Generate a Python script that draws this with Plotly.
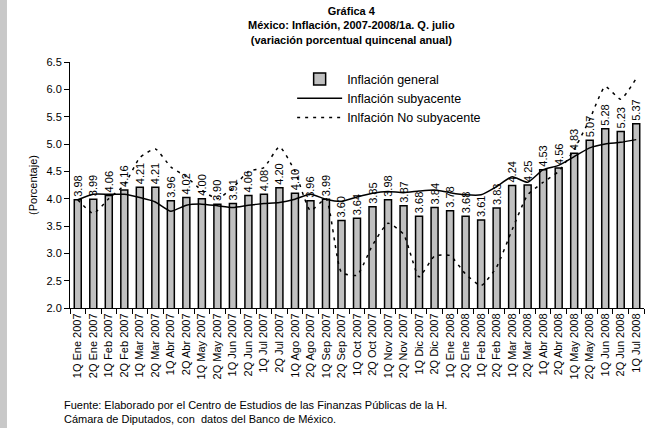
import plotly.graph_objects as go

categories = [
    "1Q Ene 2007", "2Q Ene 2007", "1Q Feb 2007", "2Q Feb 2007", "1Q Mar 2007", "2Q Mar 2007",
    "1Q Abr 2007", "2Q Abr 2007", "1Q May 2007", "2Q May 2007", "1Q Jun 2007", "2Q Jun 2007",
    "1Q Jul 2007", "2Q Jul 2007", "1Q Ago 2007", "2Q Ago 2007", "1Q Sep 2007", "2Q Sep 2007",
    "1Q Oct 2007", "2Q Oct 2007", "1Q Nov 2007", "2Q Nov 2007", "1Q Dic 2007", "2Q Dic 2007",
    "1Q Ene 2008", "2Q Ene 2008", "1Q Feb 2008", "2Q Feb 2008", "1Q Mar 2008", "2Q Mar 2008",
    "1Q Abr 2008", "2Q Abr 2008", "1Q May 2008", "2Q May 2008", "1Q Jun 2008", "2Q Jun 2008",
    "1Q Jul 2008",
]

general = [3.98, 3.99, 4.06, 4.16, 4.21, 4.21, 3.96, 4.02, 4.00, 3.90, 3.91, 4.06,
           4.08, 4.20, 4.10, 3.96, 3.99, 3.60, 3.64, 3.85, 3.98, 3.87, 3.68, 3.84,
           3.78, 3.68, 3.61, 3.83, 4.24, 4.25, 4.53, 4.56, 4.83, 5.07, 5.28, 5.23, 5.37]

subyacente = [3.98, 4.08, 4.08, 4.08, 4.02, 3.94, 3.77, 3.88, 3.90, 3.87, 3.84, 3.88,
              3.91, 3.93, 3.99, 4.08, 3.99, 3.95, 4.03, 4.10, 4.13, 4.11, 4.14, 4.16,
              4.11, 4.07, 4.07, 4.22, 4.40, 4.30, 4.53, 4.61, 4.77, 4.93, 5.00, 5.03, 5.08]

no_subyacente = [3.98, 3.73, 4.00, 4.25, 4.75, 4.91, 4.58, 4.40, 4.15, 4.00, 4.20, 4.50,
                 4.57, 4.95, 4.50, 3.78, 4.00, 2.65, 2.60, 3.15, 3.55, 3.35, 2.57, 2.95,
                 2.96, 2.62, 2.41, 2.75, 3.43, 4.07, 4.30, 4.50, 4.90, 5.45, 6.05, 5.82, 6.20]

labels = [f"{v:.2f}" for v in general]

FONT = "Liberation Sans, Arial, sans-serif"

fig = go.Figure()
fig.add_trace(go.Bar(
    x=categories, y=general, name="Inflación general",
    marker=dict(color="#c0c0c0", line=dict(color="black", width=1.5)),
    text=labels, textposition="outside", textangle=-90,
    textfont=dict(family=FONT, size=11, color="black"),
    constraintext="none", cliponaxis=False,
))
fig.add_trace(go.Scatter(
    x=categories, y=subyacente, name="Inflación subyacente", mode="lines",
    line=dict(color="black", width=1.5, shape="spline", smoothing=0.5),
))
fig.add_trace(go.Scatter(
    x=categories, y=no_subyacente, name="Inlfación No subyacente", mode="lines",
    line=dict(color="black", width=1.5, dash="3px,5px", shape="spline", smoothing=0.5),
))

fig.update_layout(
    width=650, height=428,
    margin=dict(l=70, r=6, t=62, b=120),
    paper_bgcolor="white", plot_bgcolor="white",
    font=dict(family=FONT, size=11, color="black"),
    bargap=0.55,
    showlegend=True,
    legend=dict(x=0.387, y=0.99, xanchor="left", yanchor="top",
                bgcolor="rgba(0,0,0,0)", font=dict(size=12.5, family=FONT),
                tracegroupgap=0, itemwidth=45),
    xaxis=dict(type="category", tickangle=-90, showline=True, linecolor="black",
               linewidth=1, ticks="outside", tickson="boundaries", ticklen=5,
               tickcolor="black", tickfont=dict(size=11, family=FONT),
               showgrid=False, zeroline=False, automargin=False),
    yaxis=dict(range=[2.0, 6.5], dtick=0.5, tickformat=".1f", showline=True,
               linecolor="black", linewidth=1, ticks="outside", ticklen=5,
               tickcolor="black", showgrid=False, zeroline=False, automargin=False,
               tickfont=dict(size=11, family=FONT),
               title=dict(text="(Porcentaje)", font=dict(size=11, family=FONT), standoff=6)),
)

fig.add_annotation(
    text="<b>Gráfica 4</b><br><b>México: Inflación, 2007-2008/1a. Q. julio</b><br><b>(variación porcentual quincenal anual)</b>",
    xref="paper", yref="paper", x=0.49, y=1.0, yshift=59, xanchor="center", yanchor="top",
    showarrow=False, font=dict(size=11, family=FONT), align="center",
)
fig.add_annotation(
    text="Fuente: Elaborado por el Centro de Estudios de las Finanzas Públicas de la H.<br>Cámara de Diputados, con  datos del Banco de México.",
    xref="paper", yref="paper", x=0.0, y=0.0, yshift=-89, xshift=-8, xanchor="left", yanchor="top",
    showarrow=False, font=dict(size=11, family=FONT), align="left",
)
fig.add_shape(type="rect", xref="paper", yref="paper", x0=-0.13, x1=-0.1098, y0=-0.6, y1=1.3,
              fillcolor="#c8c8c8", line=dict(width=0), layer="below")

fig.write_html("out.html", config={"displayModeBar": False},
               post_script="document.body.style.margin='0';document.body.style.overflow='hidden';")
